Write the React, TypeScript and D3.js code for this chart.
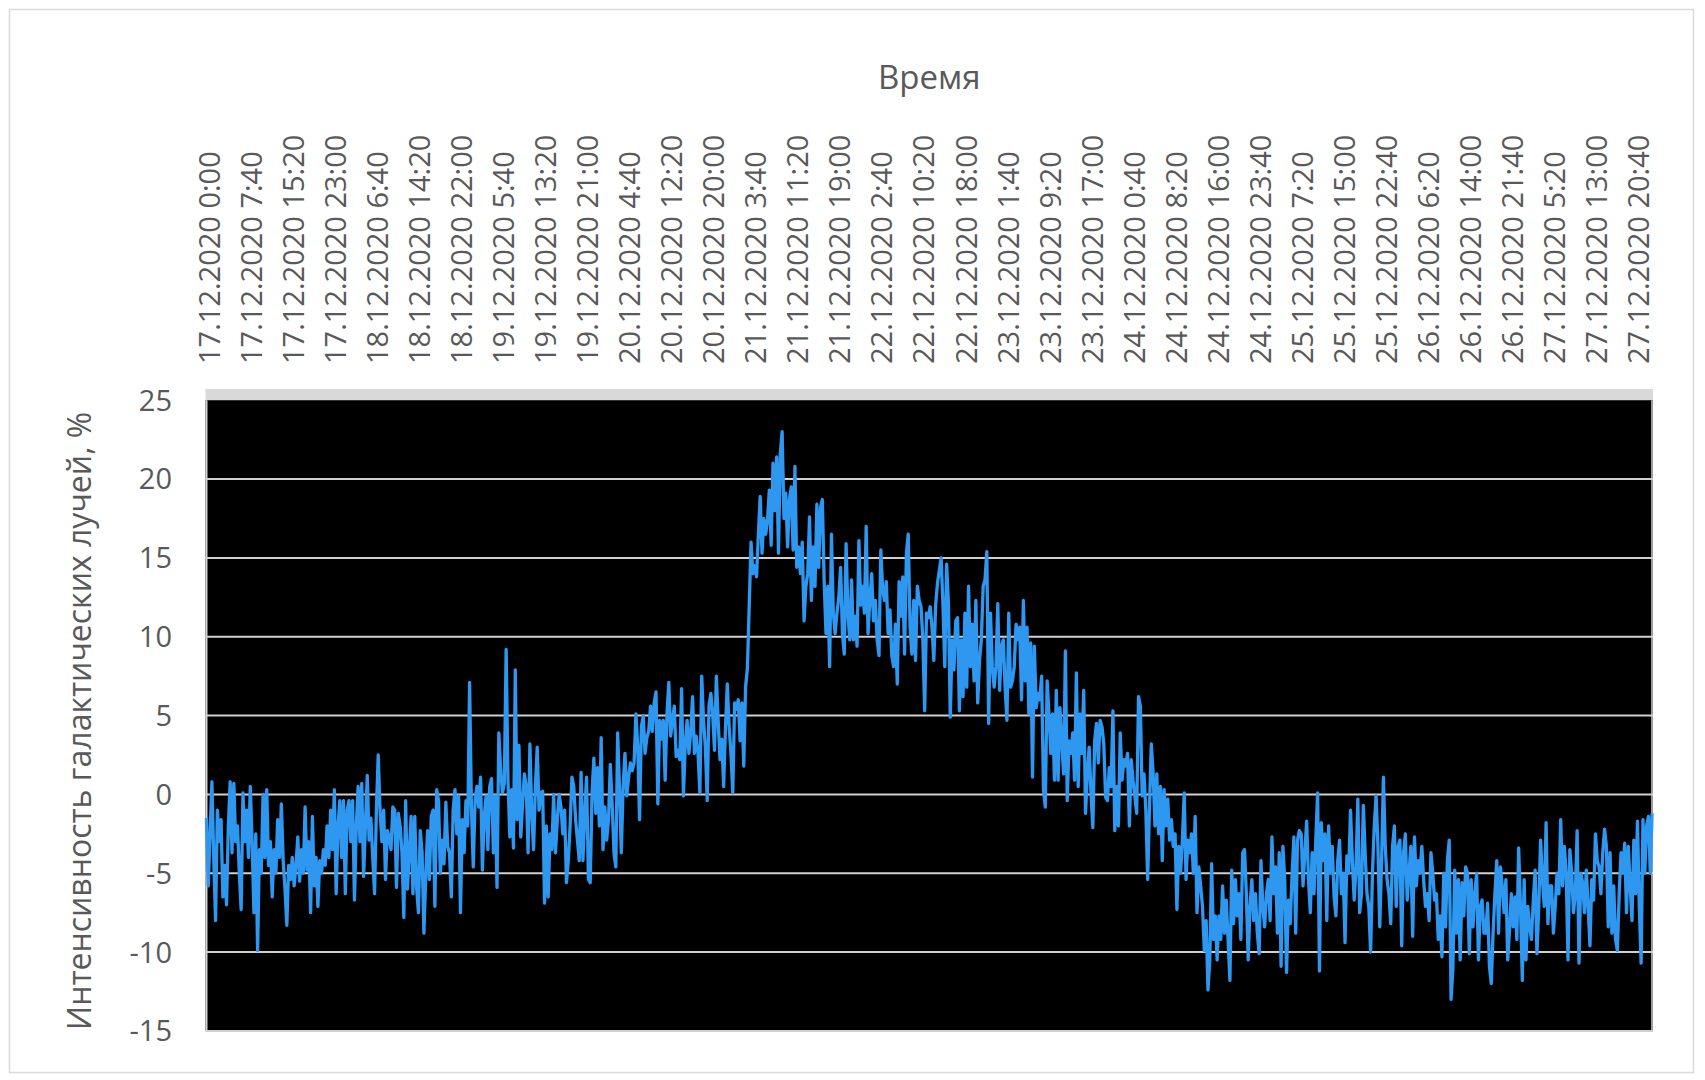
import React from "react";
import * as d3 from "d3";

// Cosmic-ray intensity, %, one value every 20 minutes from 17.12.2020 0:00
const seg1 = [
  -1.5, -5.8, -2.5, 0.8, -4, -8, -1, -3, -1.6, -6.5,
  -4.5, -7, -2, 0.8, -3.7, 0.7, -3, -2, -5, -7.3,
  0.1, -3, -1, -4, 0.5, -3, -7.5, -2.5, -9.9, -3.5,
  -5, 0, -4, 0.3, -4.5, -3, -6.5, -3.5, -5, -1.6,
  -4, -0.6, -4.2, -6, -8.3, -4.5, -5.4, -4, -5.8, -4.5,
  -2.7, -5.5, -3.5, -5, -0.8, -4.8, -3, -7.5, -1.4, -5.8,
  -4, -7.1, -4.2, -5, -3.5, -4.5, -2, -4, -1, -3.5,
  0.3, -6.3, -2, -0.4, -4, -0.4, -6.3, -1, -0.4, -3,
  -0.4, -6.7, -2, 0.5, -3, 0.7, -5.2, -2, 1.2, -2.9,
  -1.5, -4, -6.3, -1, 2.5, -1, -3, -1, -5.4, -2.3,
];
const seg2 = [
  -2.7, -3.5, -0.8, -1, -5.9, -1.2, -2, -3.7, -7.8, -0.4,
  -6, -3.7, -1.4, -6.3, -1.4, -5.9, -7.5, -2.3, -3.7, -8.8,
  -5.2, -2.3, -5.4, -1.4, -1, -7.1, 0.3, -0.4, -5, -2.9,
  -4.4, -0.5, -3.3, -3.7, -6.5, -1, 0.3, -2.5, -0.1, -7.5,
  -1.6, -3.7, -0.4, -2, 7.1, -0.8, -4.6, -0.4, 0.5, -0.8,
  1.1, -4.8, -1.4, -0.1, -3.5, 0.5, 1, -3.7, -0.1, -5.9,
  3.9, 1.5, 0.1, 0.7, 9.2, 0.9, -2.7, 0.3, -3.4, 7.9,
  -1.6, 3.1, -2.7, -0.6, 1.3, 0.5, -3.7, 3.2, -1.2, -3.5,
  0.5, 3, -1, 0.1, 0.2, -6.9, -2, -6.5, -2.5, -3.5,
  0, -3.7, -1.6, 0, -0.8, -2.5, -1, -5.6, -4.2, -2,
];
const seg3 = [
  1.1, 0.5, -1.6, -2.9, -4.2, 1.4, -4.2, -1.2, 1.1, -5.4,
  -5.6, 0.1, 2.3, -1.2, 1.7, -2, 3.6, -3.5, -0.8, -2.9,
  -1.6, 1.9, -0.6, -3.7, -4.6, 3.9, 0.5, -3.7, 0.5, 2.6,
  -0.1, 1.1, 2, 1.5, 2, 5.1, 3, -1.6, 4.3, 5,
  2.6, 3.6, 4, 5.6, 4, 5.8, 6.5, -0.6, 4.7, 3.5,
  4.7, 0.9, 5.1, 7.1, 3.7, 4.7, 5.6, 2.4, 2.8, 2.2,
  6.7, -0.1, 3.2, 4.7, 2.6, 4, 6.2, 2.6, 3.7, 2.6,
  0.1, 7.5, 4.7, 3, -0.4, 5.6, 6.4, 5.1, 2.8, 7.5,
  4.7, 2.2, 3.5, 0.5, 4.2, 7, 4.3, 2.6, 0.1, 5.8,
  5.4, 6, 3.4, 5.8, 1.8, 6.8,
];
const seg4 = [
  8, 12, 16, 14, 14.5, 13.8, 16.5, 18.9, 15.3, 17.5,
  16.5, 17.4, 19.3, 15.8, 21, 18, 21.4, 15.3, 21.6, 23,
  17.5, 19.1, 15.7, 18.7, 19.5, 15.5, 20.8, 14.4, 15.7, 14,
  16, 11, 13.2, 14, 17.6, 12.3, 15.7, 13.2, 18.4, 14.4,
  18.2, 18.7, 13.5, 10.2, 13.2, 8.1, 16.5, 11.5, 10.2, 11.5,
  12.5, 14.4, 10.2, 8.9, 15.9, 11.5, 9.8, 13.6, 9.8, 11.3,
  9.4, 16.1, 12, 13.2, 11.5, 17, 10.2, 12.3, 14, 11,
  12.3, 9.8, 8.8, 15.5, 13, 12.3, 13.5, 10.2, 11.7, 8.8,
  8.1, 10.8, 7, 13.5, 11.3, 13.8, 8.9, 15.3, 16.5, 10.6,
  8.9, 12.3, 8.5, 13.2, 12.3, 11.9, 9.8, 5.3, 11.5, 11.2,
];
const seg5 = [
  11.9, 10.6, 8.5, 12, 13.4, 14.2, 15, 12, 8.1, 14.6,
  12.1, 4.9, 9.8, 7.9, 11, 11.2, 5.3, 9.8, 6.2, 11.5,
  6.8, 13.2, 8.1, 10.8, 7.2, 12.3, 5.8, 8.5, 9.8, 13.2,
  13.6, 15.4, 4.5, 11.5, 8.1, 6.8, 8.1, 12.1, 6.6, 9.4,
  9.8, 6.8, 4.7, 11.5, 6.8, 7.2, 8.1, 10.8, 9.8, 10.6,
  6, 12.3, 7.2, 10.6, 5.1, 9.6, 1.1, 9.4, 5.5, 6.4,
  6, 7.5, 0.3, -0.8, 7.2, 5.1, 2.6, 5.1, 0.9, 6.6,
  0.9, 5.5, 3.4, 1.3, 9.1, -0.4, 3.4, 2.6, 3.9, 0.9,
  7.7, 0.5, 5.1, 2.6, 6.6, -1.2, 1.3, 3, 0.05, -2.1,
  3.4, 4.5, 2, 4.7, 4.3, 3.2, -0.2, -0.4, 1.7, 0.5,
  5.3, -2.3,
];
const seg6 = [
  0.5, -2, 3.9, 0.9, 2.2, 1.8, 2.6, -2, 2.2, 0.9,
  -0.1, -1.2, 6.2, 5.6, -0.1, 1.3, -1, -5.4, -0.8, 3.2,
  1.3, -2, 1.3, -2.5, 0.5, -4.2, 0.3, -2, -0.3, -2.9,
  -1.6, -3.3, -2.5, -7.3, -3.3, -5, -2.9, 0.1, -5.4, -2.9,
  -3.7, -2.5, -5, -1.4, -7.5, -4.6, -5.8, -7.1, -9.9, -8,
  -12.4, -10.5, -4.4, -9.2, -7.7, -10.5, -7.7, -9.2, -5.8, -8.8,
  -6.7, -9.2, -11.8, -4.8, -8.2, -5.4, -7.7, -6.3, -9.2, -3.7,
  -3.5, -6.3, -10.5, -7.1, -5.4, -8, -6.3, -8.8, -10.1, -4.2,
  -7.1, -8.4, -6.3, -5.4, -8, -2.7, -6.3, -4.6, -8.8, -3.7,
  -10.9, -3.3, -5.4, -11.3, -6.7, -8.2, -5.2, -2.7,
];
const seg7 = [
  -8.8, -2.9, -2.3, -2.5, -5.8, -3.7, -1.7, -5.4, -7.5, -3.7,
  -6.3, -2.9, 0.1, -11.2, -1.8, -4.2, -2.5, -8, -2, -5,
  -3.3, -6.5, -7.7, -4.2, -2.9, -6.3, -5, -9.4, -3.9, -5,
  -1, -4.2, -6.7, -4.6, -0.3, -7.5, -6.3, -0.7, -3.7, -6.3,
  -7.1, -10, -5, -2, -0.1, -3.3, -8.4, -4.2, 1.1, -3.3,
  -5.4, -6.3, -8.2, -3.3, -2, -7.1, -3.3, -2.9, -9.6, -3.7,
  -2.5, -6.7, -5, -3.3, -9, -2.7, -5.8, -4.2, -5, -3.3,
  -5.4, -7.1, -6.3, -8, -3.7, -5, -6.7, -6.3, -9.2, -7.7,
  -10.3, -5, -8.4, -4.2, -2.9, -13, -11.1, -4.8, -8.8, -5.4,
  -10.5, -5.6, -7.7, -4.6, -5, -10.1, -5.4, -8.4, -6.3,
];
const seg8 = [
  -5, -10.5, -7.1, -6.7, -8.8, -8.8, -6.9, -10.9, -12, -8.8,
  -6.3, -4.2, -8.8, -4.6, -5.8, -7.5, -5.4, -10.5, -8.6, -6.3,
  -8.4, -6.5, -9.2, -3.4, -7.1, -11.8, -5.4, -10.5, -7.1, -8.4,
  -9.2, -6.7, -4.8, -10.1, -7.1, -2.9, -5.4, -7.1, -1.8, -8.2,
  -5.8, -5.8, -8.8, -7.1, -5, -6.3, -1.6, -5.8, -3.3, -5,
  -10.5, -3.5, -5, -7.5, -6.3, -2.3, -10.7, -5, -5.6, -7.5,
  -4.8, -7.1, -9.6, -5.4, -6.7, -2.5, -4.2, -4.6, -6.3, -3.7,
  -2.2, -3.3, -8.4, -3.7, -8.8, -5.8, -9.2, -9.9, -6.3, -3.7,
  -5, -3.1, -7.5, -3.3, -5.8, -8, -2.9, -6.3, -1.7, -7.1,
  -10.7, -1.6, -5, -2, -1.4, -5, -1.2,
];

const intensity: number[] = [...seg1, ...seg2, ...seg3, ...seg4, ...seg5, ...seg6, ...seg7, ...seg8];

const tickLabels = [
  "17.12.2020 0:00", "17.12.2020 7:40", "17.12.2020 15:20", "17.12.2020 23:00",
  "18.12.2020 6:40", "18.12.2020 14:20", "18.12.2020 22:00", "19.12.2020 5:40",
  "19.12.2020 13:20", "19.12.2020 21:00", "20.12.2020 4:40", "20.12.2020 12:20",
  "20.12.2020 20:00", "21.12.2020 3:40", "21.12.2020 11:20", "21.12.2020 19:00",
  "22.12.2020 2:40", "22.12.2020 10:20", "22.12.2020 18:00", "23.12.2020 1:40",
  "23.12.2020 9:20", "23.12.2020 17:00", "24.12.2020 0:40", "24.12.2020 8:20",
  "24.12.2020 16:00", "24.12.2020 23:40", "25.12.2020 7:20", "25.12.2020 15:00",
  "25.12.2020 22:40", "26.12.2020 6:20", "26.12.2020 14:00", "26.12.2020 21:40",
  "27.12.2020 5:20", "27.12.2020 13:00", "27.12.2020 20:40",
];
const tickEvery = 23;
const yTicks = [-15, -10, -5, 0, 5, 10, 15, 20, 25];

const xTitle = "Время";
const yTitle = "Интенсивность галактических лучей, %";

export default function App() {
  const W = 1705;
  const H = 1080;
  const left = 205.5;
  const right = 1653;
  const top = 400.2;
  const bottom = 1030.9;
  const font = "'Open Sans', 'Noto Sans', sans-serif";
  const textColor = "#595959";

  const x = d3.scaleLinear().domain([0, intensity.length]).range([left, right]);
  const y = d3.scaleLinear().domain([-15, 25]).range([bottom, top]);
  const line = d3
    .line<number>()
    .x((_, i) => x(i + 0.5))
    .y((d) => y(d));

  return (
    <svg
      width={W}
      height={H}
      style={{ position: "absolute", left: 0, top: 0, display: "block", background: "#fff" }}
    >
      <rect x={0} y={0} width={W} height={H} fill="#fff" />
      <rect x={9.5} y={9.5} width={1684} height={1063} fill="#fff" stroke="#d9d9d9" strokeWidth={1.5} />
      {/* top band */}
      <rect x={left} y={389} width={right - left} height={top - 389} fill="#d9d9d9" />
      {/* plot area */}
      <rect x={left} y={top} width={right - left} height={bottom - top} fill="#000" />
      {yTicks.map((t) => (
        <line
          key={"g" + t}
          x1={left}
          x2={right}
          y1={y(t)}
          y2={y(t)}
          stroke="#d0d0d0"
          strokeWidth={t === 25 ? 0 : 2}
        />
      ))}
      <line x1={left + 1} x2={left + 1} y1={top} y2={bottom} stroke="#d0d0d0" strokeWidth={2} />
      <line x1={right - 1} x2={right - 1} y1={top} y2={bottom} stroke="#d0d0d0" strokeWidth={1.5} />
      <path
        d={line(intensity) || ""}
        fill="none"
        stroke="#2e97ef"
        strokeWidth={3.3}
        strokeLinejoin="round"
      />
      {yTicks.map((t) => (
        <text
          key={"yl" + t}
          x={172}
          y={y(t)}
          dy="0.36em"
          textAnchor="end"
          fontFamily={font}
          fontSize={29}
          fill={textColor}
        >
          {t}
        </text>
      ))}
      {tickLabels.map((lab, k) => {
        const px = x(k * tickEvery + 0.5) + 3;
        return (
          <text
            key={"xl" + k}
            transform={`translate(${px},364) rotate(-90)`}
            dy="0.36em"
            textAnchor="start"
            fontFamily={font}
            fontSize={29}
            fill={textColor}
          >
            {lab}
          </text>
        );
      })}
      <text
        x={(left + right) / 2}
        y={89}
        textAnchor="middle"
        fontFamily={font}
        fontSize={33}
        fill={textColor}
      >
        {xTitle}
      </text>
      <text
        transform={`translate(79,721) rotate(-90)`}
        dy="0.36em"
        textAnchor="middle"
        fontFamily={font}
        fontSize={32}
        fill={textColor}
      >
        {yTitle}
      </text>
    </svg>
  );
}
